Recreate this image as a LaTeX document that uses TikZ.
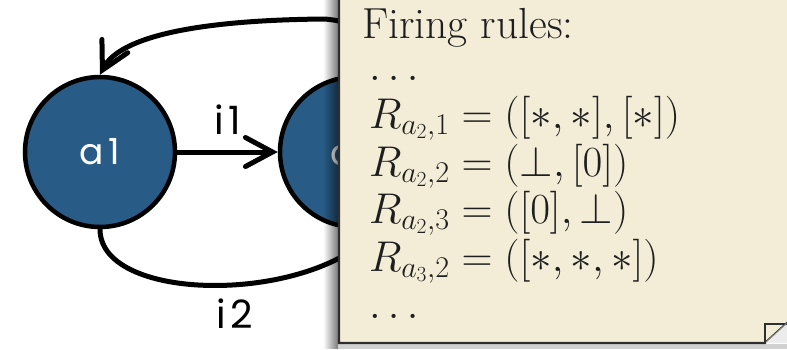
\RequirePackage{fix-cm}
\documentclass[tikz,border=0pt]{standalone}
\usepackage{fontspec}
\newfontfamily\pop[LetterSpace=12]{Poppins}
\usetikzlibrary{arrows.meta}
\definecolor{nodeblue}{HTML}{285C87}
\definecolor{notefill}{HTML}{F3EDD7}
\definecolor{noteline}{HTML}{2E2E2E}
\definecolor{notetext}{HTML}{1E1E1E}
\tikzset{
  actor/.style={circle, draw=black, line width=4.5pt, fill=nodeblue, minimum size=150pt, inner sep=0pt,
    text=white, font=\pop\fontsize{36}{38}\selectfont},
  conn/.style={line width=5pt, -{Straight Barb[length=27pt,width=29pt,line cap=round]}},
  plain/.style={line width=5pt, line cap=round},
  elabel/.style={font=\pop\fontsize{39}{40}\selectfont, inner sep=0pt},
  notetxt/.style={anchor=base west, inner sep=0pt, text=notetext, font=\fontsize{43}{48}\selectfont}
}
\begin{document}
\begin{tikzpicture}[x=1pt,y=-1pt]
\useasboundingbox (0,0) rectangle (787,349);
\node[actor] (a1) at (100,152) {a1};
\node[actor] (a2) at (355,152) {a2};
\coordinate (topv) at (325,19);
\draw[conn] (a1) -- (a2) node[midway, above=15pt, elabel] (i1) {i1};
\draw[conn] (a2.north) .. controls (352,22) .. (topv) .. controls (200,20) and (120,36) .. (a1.north);
\draw[plain] (a1.south) .. controls (100,305) and (320,305) .. (a2.-70);
\node[elabel] (i2) at (235,314) {i2};
% shadow of the note
\foreach \i in {0,...,13} {
  \fill[black, opacity=0.03+0.035*\i] (324+\i,-5) rectangle (325+\i,349);
}
\fill[black, opacity=0.18] (338,344) rectangle (787,349);
% note
\path[fill=notefill, draw=noteline, line width=2.2pt] (339,-10) -- (795,-10) -- (795,323) -- (787,323) -- (765,343) -- (339,343) -- cycle;
\fill[white!85!gray] (765,343) -- (787,323) -- (787,343) -- cycle;
\draw[noteline, line width=2pt] (765,343) -- (765,324) -- (787,324);
\draw[gray, line width=1pt] (766,342) -- (787,323);
\node[notetxt, font=\fontsize{43.5}{48}\selectfont] (t0) at (362,38) {Firing rules:};
\node[notetxt] (t1) at (369,80) {$\ldots$};
\node[notetxt] (t2) at (369,128) {$R_{a_2,1}=([*,*],[*])$};
\node[notetxt] (t3) at (369,176) {$R_{a_2,2}=(\bot,[0])$};
\node[notetxt] (t4) at (369,223) {$R_{a_2,3}=([0],\bot)$};
\node[notetxt] (t5) at (369,271) {$R_{a_3,2}=([*,*,*])$};
\node[notetxt] (t6) at (369,318) {$\ldots$};
\end{tikzpicture}
\end{document}
